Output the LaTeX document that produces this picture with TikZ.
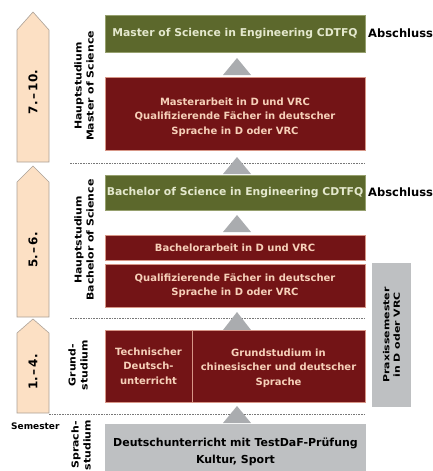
\documentclass[tikz,border=0pt]{standalone}
\usepackage{fontspec}
\setmainfont{DejaVu Sans}
\newfontfamily\widefont{DejaVu Sans}[FakeStretch=1.3]
\newfontfamily\midfont{DejaVu Sans}[FakeStretch=1.15]
\definecolor{myred}{RGB}{115,20,22}
\definecolor{myredline}{RGB}{215,150,135}
\definecolor{myredtext}{RGB}{246,208,185}
\definecolor{mygreen}{RGB}{92,104,44}
\definecolor{mygreenline}{RGB}{150,160,110}
\definecolor{mygreentext}{RGB}{228,232,205}
\definecolor{mygray}{RGB}{190,192,194}
\definecolor{mytri}{RGB}{170,172,175}
\definecolor{mypeach}{RGB}{252,224,196}
\definecolor{mypeachline}{RGB}{170,160,150}
\definecolor{mydash}{RGB}{120,120,120}
\begin{document}
\begin{tikzpicture}[x=1pt,y=-1pt,
  box/.style={inner sep=0pt, outer sep=0pt, align=center, font=\bfseries\fontsize{10}{14.5}\selectfont},
  redbox/.style={box, fill=myred, draw=myredline, line width=0.6pt, text=myredtext},
  greenbox/.style={box, fill=mygreen, draw=mygreenline, line width=0.6pt, text=mygreentext, font=\bfseries\fontsize{10.8}{13}\selectfont},
  graybox/.style={box, fill=mygray, text=black},
  stagelabel/.style={rotate=90, align=center, inner sep=0pt, font=\midfont\bfseries\fontsize{9.5}{12}\selectfont},
  semarrow/.style={fill=mypeach, draw=mypeachline, line width=0.6pt},
  semlabel/.style={rotate=90, inner sep=0pt, font=\bfseries\fontsize{12}{14}\selectfont},
  sepline/.style={draw=mydash, line width=0.9pt, dash pattern=on 1.6pt off 1pt},
  tri/.style={fill=mytri},
  endlabel/.style={anchor=west, inner sep=0pt, font=\bfseries\fontsize{11.5}{13}\selectfont}
]
\useasboundingbox (0,0) rectangle (432,471);

% semester arrows
\draw[semarrow] (17,162) -- (17,30) -- (33,12) -- (49,30) -- (49,162) -- cycle;
\draw[semarrow] (17,317) -- (17,182) -- (33,166) -- (49,182) -- (49,317) -- cycle;
\draw[semarrow] (17,413) -- (17,333) -- (33,319) -- (49,333) -- (49,413) -- cycle;
\node[semlabel] (s1) at (33,92) {7.\,--\,10.};
\node[semlabel] (s2) at (33,250) {5.\,--\,6.};
\node[semlabel] (s3) at (33,372) {1.\,--\,4.};
\node[anchor=west, inner sep=0pt, font=\bfseries\fontsize{9}{11}\selectfont] (sem) at (11,426) {Semester};

% separators
\coordinate (d1a) at (70,163); \coordinate (d1b) at (366,163);
\coordinate (d2a) at (70,318); \coordinate (d2b) at (366,318);
\coordinate (d3a) at (49,414); \coordinate (d3b) at (366,414);
\draw[sepline] (d1a) -- (d1b);
\draw[sepline] (d2a) -- (d2b);
\draw[sepline] (d3a) -- (d3b);

% stage labels
\node[stagelabel] (l1) at (84,86) {Hauptstudium\\Master of Science};
\node[stagelabel] (l2) at (84,240) {Hauptstudium\\Bachelor of Science};
\node[stagelabel] (l3) at (78,365) {Grund-\\studium};
\node[stagelabel] (l4) at (81,445) {Sprach-\\studium};

% triangles
\fill[tri] (223,75) -- (237,58) -- (251,75) -- cycle;
\fill[tri] (223,174) -- (237,157) -- (251,174) -- cycle;
\fill[tri] (223,232) -- (237,215) -- (251,232) -- cycle;
\fill[tri] (223,330) -- (237,312) -- (251,330) -- cycle;
\fill[tri] (223,423) -- (237,406) -- (251,423) -- cycle;

% boxes
\node[greenbox, minimum width=260pt, minimum height=37pt] (msc) at (235,33.5) {Master of Science in Engineering CDTFQ};
\node[redbox, minimum width=260pt, minimum height=73pt] (ma) at (235,113.5) {};
\node[box, text=myredtext] (mat) at (235,117) {Masterarbeit in D und VRC\\Qualifizierende Fächer in deutscher\\Sprache in D oder VRC};
\node[greenbox, minimum width=260pt, minimum height=35pt] (bsc) at (235,192.5) {Bachelor of Science in Engineering CDTFQ};
\node[redbox, minimum width=260pt, minimum height=25pt] (ba) at (235,247.5) {Bachelorarbeit in D und VRC};
\node[redbox, minimum width=260pt, minimum height=43pt] (qf) at (235,285.5) {Qualifizierende Fächer in deutscher\\Sprache in D oder VRC};
\node[redbox, minimum width=87pt, minimum height=72pt] (td) at (148.5,366) {Technischer\\Deutsch-\\unterricht};
\node[redbox, minimum width=173pt, minimum height=72pt] (gs) at (278.5,366) {};
\node[box, text=myredtext] (gst) at (278.5,368) {Grundstudium in\\chinesischer und deutscher\\Sprache};
\node[graybox, minimum width=261pt, minimum height=56pt, font=\bfseries\fontsize{11}{17}\selectfont] (du) at (235.5,452) {Deutschunterricht mit TestDaF-Prüfung\\Kultur, Sport};
\node[graybox, minimum width=39pt, minimum height=144pt] (px) at (391.5,335) {};
\node[stagelabel, font=\widefont\bfseries\fontsize{8.4}{10.5}\selectfont] (pxl) at (px.center) {Praxissemester\\in D oder VRC};

\node[endlabel] (a1) at (368,33.5) {Abschluss};
\node[endlabel] (a2) at (368,192.5) {Abschluss};
\end{tikzpicture}
\end{document}
